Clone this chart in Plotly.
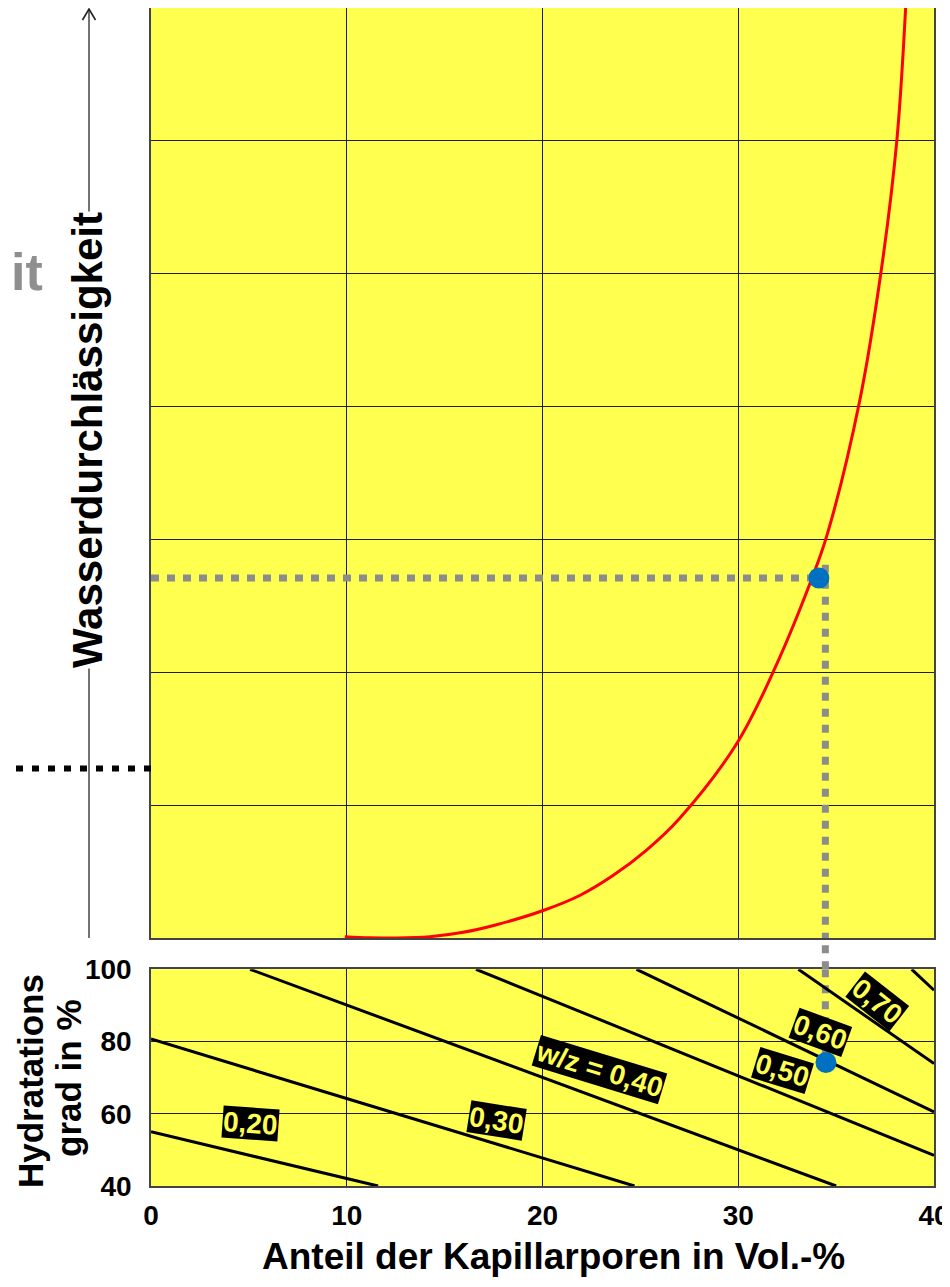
import plotly.graph_objects as go

# ---------------- data ----------------
# red curve: water permeability vs. capillary pore share (top panel, grid units)
pore_curve = [9.9, 11.2, 12.55, 14.25, 15.95, 17.65, 20.0, 21.9, 23.6, 25.3, 27.0, 29.95,
              31.93, 33.77, 34.53, 36.2, 37.3, 38.1, 38.55]
perm_curve = [0.01, 0.002, 0.0, 0.01, 0.043, 0.1, 0.205, 0.32, 0.47, 0.66, 0.9, 1.47,
              2.05, 2.71, 3.03, 4.04, 5.02, 6.0, 7.0]

# w/z lines in the lower panel (pore share x, hydration degree y)
wz_x = [[0, 11.6], [0, 24.7], [5.06, 35], [16.6, 40], [24.8, 40], [33.07, 40], [38.86, 40]]
wz_y = [[55, 40], [80.7, 40], [100, 40], [100, 48.5], [100, 60.5], [100, 73.9], [100, 94.2]]

wz_labels = ["0,20", "0,30", "w/z = 0,40", "0,50", "0,60", "0,70"]
wz_label_x = [5.1, 17.66, 22.9, 32.26, 34.22, 37.11]
wz_label_y = [57.3, 58.0, 72.3, 72.0, 82.6, 91.2]
wz_label_angle = [4, 9, 17, 17, 20, 38]

# example point
point_top_x = 34.12
point_top_perm = 2.71
point_bot_x = 34.48
point_bot_hydr = 74.2
guide_x = 34.45
ref_level = 1.275

x_ticks = [0, 10, 20, 30, 40]
y2_ticks = [40, 60, 80, 100]

x_title = "Anteil der Kapillarporen in Vol.-%"
y_title = "Wasserdurchlässigkeit"
y2_title = ["Hydratations", "grad in %"]

# ---------------- geometry ----------------
OFF = 8                      # page body margin
W, H = 942, 1279
ML, MR, MT, MB = 143, 16, 0, 101
PW = W - ML - MR
PH = H - MT - MB
BOTTOM_PX = OFF + H - MB     # screen y of plot bottom


def px_x(p):
    return (p - OFF - ML) / PW


def px_y(p):
    return (BOTTOM_PX - p) / PH


top_dom = [px_y(938), 1.0]
bot_dom = [0.0, px_y(969.3)]

FONT = "Liberation Sans, Arial, sans-serif"
YELLOW = "#FFFF50"
GRID = "#1e1e1e"
GREY_DOT = "#8c8c8c"
BLUE = "#0070C0"

fig = go.Figure()

# red curve
fig.add_trace(go.Scatter(x=pore_curve, y=perm_curve, mode="lines",
                         line=dict(color="#FF0000", width=3, shape="spline", smoothing=1.0),
                         xaxis="x", yaxis="y", hoverinfo="skip"))

# grey dotted guides (top panel)
fig.add_trace(go.Scatter(x=[0, point_top_x], y=[point_top_perm, point_top_perm], mode="lines",
                         line=dict(color=GREY_DOT, width=7, dash="8px,8px"),
                         xaxis="x", yaxis="y", hoverinfo="skip"))
fig.add_trace(go.Scatter(x=[guide_x, guide_x], y=[point_top_perm + 0.1, 0], mode="lines",
                         line=dict(color=GREY_DOT, width=7, dash="8px,8px"),
                         xaxis="x", yaxis="y", hoverinfo="skip"))
# grey dotted guide (bottom panel)
fig.add_trace(go.Scatter(x=[guide_x, guide_x], y=[100, point_bot_hydr], mode="lines",
                         line=dict(color=GREY_DOT, width=7, dash="8px,8px"),
                         xaxis="x2", yaxis="y2", hoverinfo="skip"))

# w/z lines
for xs, ys in zip(wz_x, wz_y):
    fig.add_trace(go.Scatter(x=xs, y=ys, mode="lines", line=dict(color="black", width=3),
                             xaxis="x2", yaxis="y2", hoverinfo="skip"))

# blue points
fig.add_trace(go.Scatter(x=[point_top_x], y=[point_top_perm], mode="markers",
                         marker=dict(color=BLUE, size=21), xaxis="x", yaxis="y", hoverinfo="skip"))
fig.add_trace(go.Scatter(x=[point_bot_x], y=[point_bot_hydr], mode="markers",
                         marker=dict(color=BLUE, size=21), xaxis="x2", yaxis="y2", hoverinfo="skip"))

annotations = []
for t, x, y, a in zip(wz_labels, wz_label_x, wz_label_y, wz_label_angle):
    annotations.append(dict(text=t, x=x, y=y, xref="x2", yref="y2", showarrow=False,
                            xanchor="center", yanchor="middle",
                            textangle=a, bgcolor="black", borderpad=0,
                            font=dict(family=FONT, size=28, color=YELLOW, weight="bold")))

annotations += [
    dict(text=x_title, x=px_x(553), y=px_y(1256), xref="paper", yref="paper", showarrow=False,
         xanchor="center", yanchor="middle",
         font=dict(family=FONT, size=37, color="black", weight="bold")),
    dict(text=y_title, x=px_x(87), y=px_y(440), xref="paper", yref="paper", showarrow=False,
         xanchor="center", yanchor="middle",
         textangle=-90, bgcolor="white", borderpad=0,
         font=dict(family=FONT, size=42, color="black", weight="bold")),
    dict(text=y2_title[0], x=px_x(30), y=px_y(1081), xref="paper", yref="paper", showarrow=False,
         xanchor="center", yanchor="middle",
         textangle=-90, font=dict(family=FONT, size=35, color="black", weight="bold")),
    dict(text=y2_title[1], x=px_x(68), y=px_y(1078), xref="paper", yref="paper", showarrow=False,
         xanchor="center", yanchor="middle",
         textangle=-90, font=dict(family=FONT, size=35, color="black", weight="bold")),
    dict(text="it", x=px_x(9), y=px_y(272), xref="paper", yref="paper", showarrow=False,
         xanchor="left", yanchor="middle",
         font=dict(family=FONT, size=52, color="#8f8f8f", weight="bold")),
]

shapes = [
    # vertical arrow axis
    dict(type="line", xref="paper", yref="paper", x0=px_x(89), x1=px_x(89), y0=px_y(938), y1=px_y(9),
         line=dict(color="#444444", width=1.5), layer="above"),
    dict(type="path", xref="paper", yref="paper",
         path=f"M {px_x(82.5)} {px_y(20)} L {px_x(89)} {px_y(9)} L {px_x(95.5)} {px_y(20)}",
         line=dict(color="#222222", width=1.6), layer="above"),
    # grey dotted guide across the gap
    dict(type="line", xref="x", yref="paper", x0=guide_x, x1=guide_x, y0=bot_dom[1], y1=top_dom[0],
         line=dict(color=GREY_DOT, width=7, dash="8px,8px"), layer="above"),
    # black dotted reference on the left
    dict(type="line", xref="paper", yref="y", x0=px_x(0), x1=0, y0=ref_level, y1=ref_level,
         line=dict(color="black", width=6, dash="7px,9px"), layer="above"),
]

axis_common = dict(showline=True, mirror=True, linecolor="#444444", linewidth=1.5,
                   showgrid=True, gridcolor=GRID, gridwidth=1, zeroline=False,
                   automargin=False)

fig.update_layout(
    width=W, height=H,
    margin=dict(l=ML, r=MR, t=MT, b=MB, autoexpand=False),
    paper_bgcolor="white", plot_bgcolor=YELLOW,
    showlegend=False,
    xaxis=dict(domain=[0, 1], range=[0, 40], anchor="y", tickvals=x_ticks, showticklabels=False,
               ticks="", ticklen=0, **axis_common),
    yaxis=dict(domain=top_dom, range=[0, 7], anchor="x", dtick=1, showticklabels=False,
               ticks="", ticklen=0, **axis_common),
    xaxis2=dict(domain=[0, 1], range=[0, 40], anchor="y2", tickvals=x_ticks, ticks="", ticklen=0,
                ticklabelstandoff=4,
                tickfont=dict(family=FONT, size=28, color="black", weight="bold"), **axis_common),
    yaxis2=dict(domain=bot_dom, range=[40, 100], anchor="x2", tickvals=y2_ticks, ticks="", ticklen=0,
                ticklabelstandoff=12,
                tickfont=dict(family=FONT, size=28, color="black", weight="bold"), **axis_common),
    annotations=annotations,
    shapes=shapes,
)

fig.write_html("out.html")
